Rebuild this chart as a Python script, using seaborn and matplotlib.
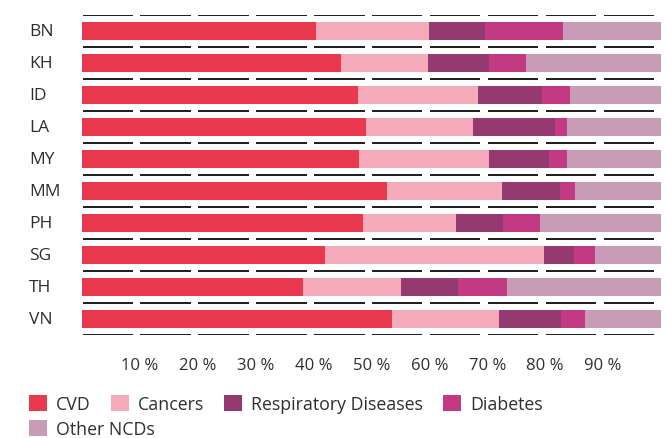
import matplotlib
matplotlib.use("Agg")
import matplotlib.pyplot as plt
import numpy as np
import pandas as pd
import seaborn as sns
from matplotlib.patches import Patch
from matplotlib.transforms import blended_transform_factory

# Share of NCD deaths by cause (%), ASEAN member states
countries = ["BN", "KH", "ID", "LA", "MY", "MM", "PH", "SG", "TH", "VN"]
cvd = [40.4, 44.7, 47.6, 49.0, 47.8, 52.7, 48.5, 42.0, 38.1, 53.5]
cancers = [19.5, 15.0, 20.8, 18.5, 22.5, 19.8, 16.1, 37.8, 17.0, 18.5]
respiratory = [9.7, 10.6, 11.0, 14.2, 10.4, 10.1, 8.1, 5.2, 9.8, 10.7]
diabetes = [13.4, 6.4, 4.9, 2.1, 3.1, 2.5, 6.4, 3.6, 8.5, 4.2]
other_ncds = [17.0, 23.3, 15.7, 16.2, 16.2, 14.9, 20.9, 11.4, 26.6, 13.1]

series = ["CVD", "Cancers", "Respiratory Diseases", "Diabetes", "Other NCDs"]
colors = ["#E8394F", "#F4AAB9", "#943A70", "#C23B82", "#C89CB6"]
xticks = [10, 20, 30, 40, 50, 60, 70, 80, 90]
xticklabels = [f"{t} %" for t in xticks]

sns.set_theme(style="white")
plt.rcParams["font.family"] = ["Open Sans", "DejaVu Sans"]
text_color = "#2e2e2e"

df = pd.DataFrame({
    "country": countries,
    "CVD": cvd,
    "Cancers": cancers,
    "Respiratory Diseases": respiratory,
    "Diabetes": diabetes,
    "Other NCDs": other_ncds,
})
cum = df[series].cumsum(axis=1)

W, H = 671, 439
fig = plt.figure(figsize=(W / 100, H / 100), dpi=100)
# 32 px per row so the separators sit on whole pixels
ax = fig.add_axes([82 / W, 1 - 336 / H, (661 - 82) / W, 320 / H])

# stacked bars: draw cumulative totals from the outermost segment inwards
for name, color in reversed(list(zip(series, colors))):
    sns.barplot(x=cum[name], y=df["country"], orient="h", color=color,
                saturation=1, width=0.5625, linewidth=0, errorbar=None, ax=ax)

ax.set_xlim(0, 100)
ax.set_ylim(len(countries) - 0.5, -0.5)

# dashed separators between rows, one dash per 10 % step
starts = [0] + xticks
for yb in np.arange(-0.5, len(countries), 1.0):
    for t in starts:
        ax.plot([t + 0.1, t + 8.8], [yb, yb], color="#222222", lw=1.44,
                solid_capstyle="butt", zorder=3)

ax.set_xticks(xticks)
ax.set_xticklabels(xticklabels, fontsize=12, color=text_color)
ax.set_yticks(range(len(countries)))
ax.set_yticklabels([])
ax.tick_params(axis="both", length=0)
ax.tick_params(axis="x", pad=16)
ax.set_xlabel("")
ax.set_ylabel("")
sns.despine(ax=ax, left=True, bottom=True)

trans = blended_transform_factory(fig.transFigure, ax.transData)
for i, c in enumerate(countries):
    ax.text(29 / W, i, c, transform=trans, ha="left", va="center",
            fontsize=12.5, color=text_color)

handles = [Patch(facecolor=c, edgecolor="none", label=s) for s, c in zip(series, colors)]
legend_kw = dict(loc="upper left", frameon=False, fontsize=12.8,
                 handlelength=1.0, handleheight=1.0, handletextpad=0.5,
                 columnspacing=1.15, borderpad=0, borderaxespad=0,
                 labelcolor=text_color)
fig.legend(handles=handles[:4], ncol=4,
           bbox_to_anchor=(29 / W, 1 - 396 / H), **legend_kw)
fig.legend(handles=handles[4:], ncol=1,
           bbox_to_anchor=(29 / W, 1 - 421 / H), **legend_kw)

fig.savefig("out.png", dpi=100)
